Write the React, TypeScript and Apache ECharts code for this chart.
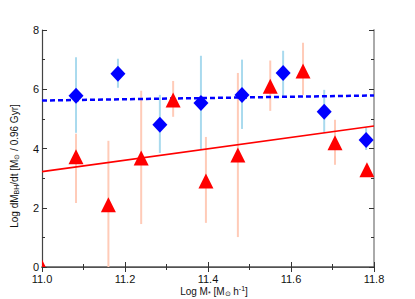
import React, { useEffect, useRef } from "react";
import * as echarts from "echarts";

const blueX = [11.082, 11.183, 11.284, 11.383, 11.482, 11.581, 11.68, 11.781];
const blueY = [5.78, 6.52, 4.8, 5.54, 5.81, 6.55, 5.24, 4.29];
const blueLo = [4.53, 6.05, 3.85, 3.95, 4.66, 5.75, 4.53, 3.95];
const blueHi = [7.08, 7.03, 5.81, 7.13, 7.0, 7.3, 5.98, 4.7];

const redX = [11.0, 11.082, 11.16, 11.239, 11.316, 11.395, 11.472, 11.55, 11.629, 11.706, 11.783];
const redY = [0.0, 3.72, 2.1, 3.68, 5.64, 2.9, 3.78, 6.1, 6.62, 4.19, 3.28];
const redLo = [0.0, 2.16, 0.0, 1.45, 5.07, 1.49, 1.01, 5.27, 5.81, 3.45, 3.28];
const redHi = [0.0, 4.5, 4.26, 5.95, 6.28, 4.39, 6.55, 6.97, 7.57, 4.97, 3.28];

const blueFitX = [11.0, 11.8];
const blueFitY = [5.62, 5.79];
const redFitX = [11.0, 11.8];
const redFitY = [3.22, 4.76];

const xTicks = ["11.0", "11.2", "11.4", "11.6", "11.8"];

const FONT = "Liberation Sans, Arial, Helvetica, sans-serif";

function errSeries(xs: number[], lo: number[], hi: number[], color: string) {
  return {
    type: "custom",
    xAxisIndex: 0,
    yAxisIndex: 0,
    clip: true,
    data: xs.map((x, i) => [x, lo[i], hi[i]]),
    renderItem: (params: any, api: any) => {
      const a = api.coord([api.value(0), api.value(1)]);
      const b = api.coord([api.value(0), api.value(2)]);
      return {
        type: "line",
        shape: { x1: a[0], y1: a[1], x2: b[0], y2: b[1] },
        style: { stroke: color, lineWidth: 2 },
      };
    },
    z: 1,
  };
}

export default function App() {
  const ref = useRef<HTMLDivElement>(null);
  useEffect(() => {
    if (!ref.current) return;
    const chart = echarts.init(ref.current, undefined, { renderer: "svg" });
    const xBase = {
      type: "value",
      min: 11.0,
      max: 11.8,
      interval: 0.2,
      splitLine: { show: false },
    };
    const yBase = {
      type: "value",
      min: 0,
      max: 8,
      interval: 2,
      splitLine: { show: false },
    };
    chart.setOption({
      animation: false,
      backgroundColor: "#ffffff",
      grid: { left: 42, top: 30, right: 41, bottom: 32, containLabel: false },
      xAxis: [
        {
          ...xBase,
          position: "bottom",
          axisLine: { show: true, lineStyle: { color: "#444", width: 1.2 } },
          axisTick: { show: true, inside: true, length: 5, lineStyle: { color: "#333" } },
          minorTick: { show: true, splitNumber: 2, length: 3, lineStyle: { color: "#333" } },
          axisLabel: {
            show: true,
            margin: 6,
            fontSize: 11,
            color: "#111",
            fontFamily: FONT,
            formatter: (v: number) => {
              const s = v.toFixed(1);
              return xTicks.includes(s) ? s : "";
            },
          },
        },
        {
          ...xBase,
          position: "top",
          axisLine: { show: true, lineStyle: { color: "#555", width: 1.5 } },
          axisTick: { show: true, inside: true, length: 5, lineStyle: { color: "#333" } },
          minorTick: { show: true, splitNumber: 2, length: 3, lineStyle: { color: "#333" } },
          axisLabel: { show: false },
        },
      ],
      yAxis: [
        {
          ...yBase,
          position: "left",
          axisLine: { show: true, lineStyle: { color: "#444", width: 1.2 } },
          axisTick: { show: true, inside: true, length: 5, lineStyle: { color: "#333" } },
          minorTick: { show: true, splitNumber: 2, length: 3, lineStyle: { color: "#333" } },
          axisLabel: { show: true, margin: 3, fontSize: 11, color: "#111", fontFamily: FONT },
        },
        {
          ...yBase,
          position: "right",
          axisLine: { show: true, lineStyle: { color: "#aaa", width: 2 } },
          axisTick: { show: true, inside: true, length: 5, lineStyle: { color: "#333" } },
          minorTick: { show: true, splitNumber: 2, length: 3, lineStyle: { color: "#333" } },
          axisLabel: { show: false },
        },
      ],
      graphic: [
        {
          type: "text",
          x: 14,
          y: 166,
          rotation: Math.PI / 2,
          style: {
            text: "Log dM{s|BH}/dt [M{s|\u2299} / 0.96 Gyr]",
            fontSize: 10,
            fontFamily: FONT,
            fill: "#111",
            align: "center",
            verticalAlign: "middle",
            rich: {
              s: { fontSize: 7, fontFamily: FONT, fill: "#111", padding: [5, 0, 0, 0] },
            },
          },
        },
        {
          type: "text",
          x: 214,
          y: 291,
          style: {
            text: "Log M{s|*} [M{s|\u2299} h{p|-1}]",
            fontSize: 10,
            fontFamily: FONT,
            fill: "#111",
            align: "center",
            verticalAlign: "middle",
            rich: {
              s: { fontSize: 7, fontFamily: FONT, fill: "#111", padding: [5, 0, 0, 0] },
              p: { fontSize: 7, fontFamily: FONT, fill: "#111", padding: [0, 0, 5, 0] },
            },
          },
        },
      ],
      series: [
        errSeries(redX, redLo, redHi, "#ffcbb8"),
        errSeries(blueX, blueLo, blueHi, "#a9daee"),
        {
          type: "line",
          data: redFitX.map((x, i) => [x, redFitY[i]]),
          showSymbol: false,
          symbol: "none",
          lineStyle: { color: "#ff0000", width: 1.6 },
          z: 2,
        },
        {
          type: "line",
          data: blueFitX.map((x, i) => [x, blueFitY[i]]),
          showSymbol: false,
          symbol: "none",
          lineStyle: { color: "#0000ff", width: 2.5, type: [5, 3] },
          z: 2,
        },
        {
          type: "custom",
          clip: true,
          data: redX.map((x, i) => [x, redY[i]]),
          renderItem: (params: any, api: any) => {
            const c = api.coord([api.value(0), api.value(1)]);
            const w = 7.5;
            const h = 7.5;
            return {
              type: "polygon",
              shape: {
                points: [
                  [c[0], c[1] - h],
                  [c[0] + w, c[1] + h],
                  [c[0] - w, c[1] + h],
                ],
              },
              style: { fill: "#ff0000" },
            };
          },
          z: 3,
        },
        {
          type: "scatter",
          data: blueX.map((x, i) => [x, blueY[i]]),
          symbol: "diamond",
          symbolSize: [15, 16],
          itemStyle: { color: "#0000ff", opacity: 1 },
          z: 4,
        },
      ],
    });
    return () => chart.dispose();
  }, []);
  return <div ref={ref} style={{ width: 415, height: 299, position: "absolute", left: 0, top: 0 }} />;
}
